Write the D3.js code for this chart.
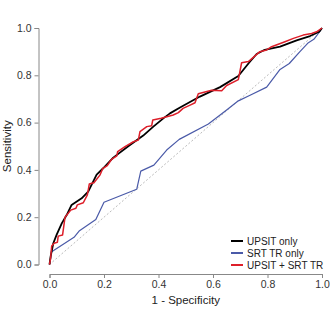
<!DOCTYPE html>
<html><head><meta charset="utf-8">
<script src="https://cdn.jsdelivr.net/npm/d3@7"></script>
<style>body{margin:0;background:#fff}svg{display:block}text{font-family:"Liberation Sans",Arial,sans-serif}</style>
</head><body>
<svg id="c" width="330" height="330"></svg>
<script>
const xTicks = [0, 0.2, 0.4, 0.6, 0.8, 1.0];
const yTicks = [0, 0.2, 0.4, 0.6, 0.8, 1.0];
const seriesNames = ["UPSIT only", "SRT TR only", "UPSIT + SRT TR"];
const seriesColors = ["#000000", "#4a5aa8", "#dd1f2a"];

const upsitFpr = [0,0.004,0.014,0.026,0.045,0.063,0.081,0.118,0.142,0.173,0.197,0.234,0.289,0.344,0.381,0.42,0.442,0.479,0.552,0.626,0.693,0.73,0.76,0.79,0.846,0.907,0.956,0.99,1];
const upsitTpr = [0,0.033,0.09,0.125,0.174,0.209,0.252,0.28,0.308,0.38,0.407,0.452,0.5,0.545,0.583,0.62,0.639,0.664,0.71,0.75,0.797,0.85,0.89,0.908,0.921,0.948,0.966,0.984,1];

const srtFpr = [0,0.008,0.09,0.11,0.17,0.2,0.32,0.335,0.383,0.43,0.476,0.583,0.65,0.693,0.736,0.797,0.846,0.88,0.919,0.95,0.97,0.99,1];
const srtTpr = [0,0.054,0.115,0.143,0.19,0.263,0.318,0.395,0.42,0.484,0.529,0.594,0.653,0.692,0.716,0.75,0.825,0.85,0.9,0.938,0.952,0.982,1];

const combFpr = [0,0.004,0.008,0.017,0.029,0.032,0.048,0.057,0.078,0.097,0.102,0.124,0.139,0.146,0.163,0.185,0.195,0.212,0.228,0.247,0.25,0.277,0.308,0.326,0.332,0.357,0.375,0.379,0.41,0.454,0.473,0.49,0.516,0.534,0.546,0.595,0.632,0.65,0.693,0.705,0.73,0.772,0.797,0.815,0.864,0.895,0.931,0.962,0.98,1];
const combTpr = [0,0.026,0.078,0.09,0.094,0.12,0.125,0.2,0.23,0.238,0.252,0.261,0.294,0.34,0.346,0.378,0.405,0.418,0.445,0.459,0.477,0.498,0.519,0.526,0.562,0.583,0.587,0.611,0.618,0.632,0.642,0.66,0.674,0.684,0.722,0.737,0.735,0.757,0.782,0.853,0.858,0.9,0.907,0.921,0.942,0.956,0.97,0.977,0.984,1];

const svg = d3.select("#c");
const x = d3.scaleLinear().domain([0,1]).range([49.5,322]);
const y = d3.scaleLinear().domain([0,1]).range([264.5,28]);

const xAxis = svg.append("g").attr("transform","translate(0,274)")
  .call(d3.axisBottom(x).tickValues(xTicks).tickFormat(d3.format(".1f")).tickSize(4).tickPadding(3));
const yAxis = svg.append("g").attr("transform","translate(38.5,0)")
  .call(d3.axisLeft(y).tickValues(yTicks).tickFormat(d3.format(".1f")).tickSize(4).tickPadding(3));
[xAxis,yAxis].forEach(g=>{
  g.selectAll("path,line").attr("stroke","#888").attr("stroke-width",1);
  g.selectAll("text").attr("fill","#333").style("font-size","10.5px");
});

svg.append("line").attr("x1",x(0)).attr("y1",y(0)).attr("x2",x(1)).attr("y2",y(1))
  .attr("stroke","#bbb").attr("stroke-width",1).attr("stroke-dasharray","2,2");

const line = d3.line().x(d=>x(d[0])).y(d=>y(d[1]));
const series = [
  {fpr:srtFpr,tpr:srtTpr,color:seriesColors[1],w:1.2},
  {fpr:upsitFpr,tpr:upsitTpr,color:seriesColors[0],w:1.8},
  {fpr:combFpr,tpr:combTpr,color:seriesColors[2],w:1.5}
];
series.forEach(s=>{
  svg.append("path").datum(s.fpr.map((f,i)=>[f,s.tpr[i]]))
    .attr("d",line).attr("fill","none").attr("stroke",s.color)
    .attr("stroke-width",s.w).attr("stroke-linejoin","round");
});

svg.append("text").attr("x",(x(0)+x(1))/2).attr("y",304).attr("text-anchor","middle")
  .style("font-size","11.5px").attr("fill","#222").text("1 - Specificity");
svg.append("text").attr("transform",`translate(11,${(y(0)+y(1))/2}) rotate(-90)`)
  .attr("text-anchor","middle").style("font-size","11.5px").attr("fill","#222").text("Sensitivity");

const lg = svg.append("g");
seriesNames.forEach((n,i)=>{
  const yy = 241 + i*12;
  lg.append("line").attr("x1",231).attr("x2",243).attr("y1",yy).attr("y2",yy)
    .attr("stroke",seriesColors[i]).attr("stroke-width",2);
  lg.append("text").attr("x",247).attr("y",yy).attr("dy","0.35em")
    .style("font-size","10px").attr("fill","#222").text(n);
});
</script>
</body></html>
